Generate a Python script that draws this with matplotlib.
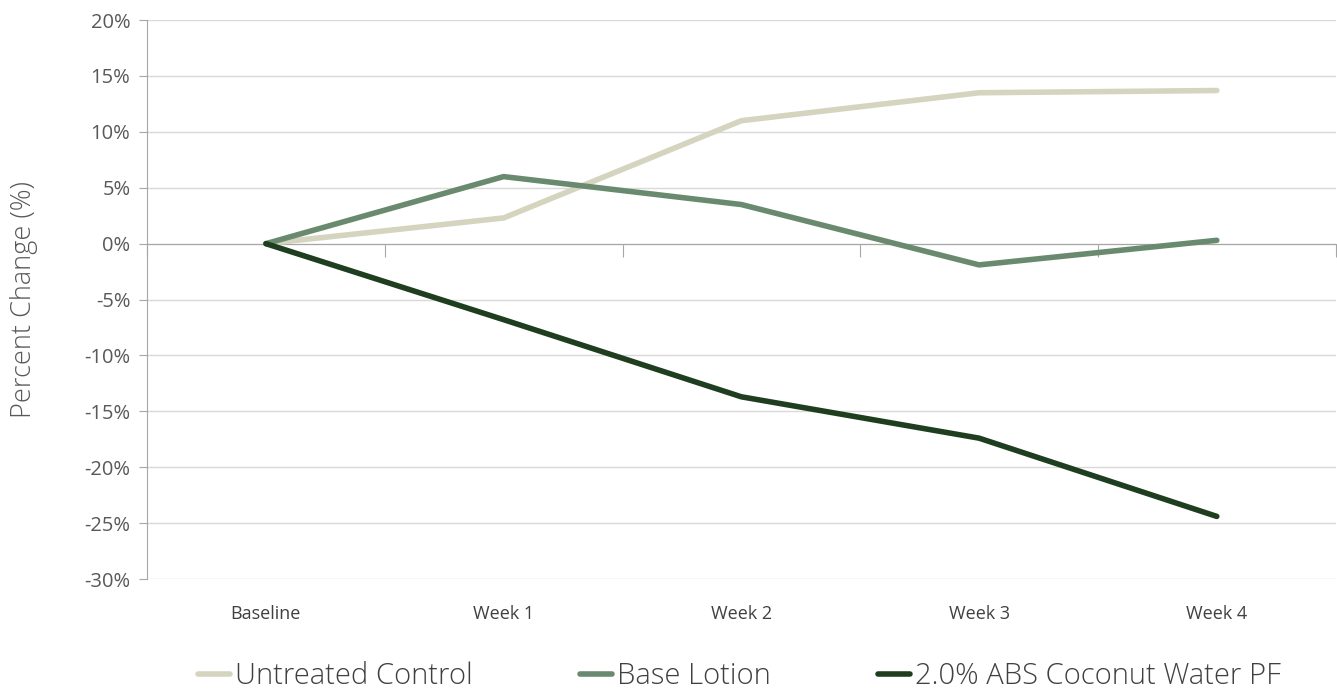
import numpy as np
import matplotlib.pyplot as plt
from matplotlib.ticker import FuncFormatter

categories = ['Baseline', 'Week 1', 'Week 2', 'Week 3', 'Week 4']
untreated = [0.0, 2.3, 11.0, 13.5, 13.7]
base_lotion = [0.0, 6.0, 3.5, -1.9, 0.3]
coconut = [0.0, -6.8, -13.7, -17.4, -24.4]
series_names = ['Untreated Control', 'Base Lotion', '2.0% ABS Coconut Water PF']
colors = ['#D5D4BF', '#6A8A6F', '#1E3E1F']

plt.rcParams['font.family'] = ['Open Sans', 'DejaVu Sans']

fig = plt.figure(figsize=(13.37, 6.93), dpi=100)
ax = fig.add_axes([0.110, 0.1645, 0.889, 0.8065])

x = np.arange(len(categories))
for vals, name, c in zip([untreated, base_lotion, coconut], series_names, colors):
    ax.plot(x, vals, color=c, lw=4, label=name, solid_capstyle='round', zorder=3)

ax.set_xlim(-0.5, len(categories) - 0.5)
ax.set_ylim(-30, 20)
ax.set_yticks(np.arange(-30, 21, 5))
ax.yaxis.set_major_formatter(FuncFormatter(lambda v, p: f'{v:.0f}%'))
ax.grid(axis='y', color='#D9D9D9', lw=1, zorder=0)
ax.set_axisbelow(True)

for s in ['top', 'right']:
    ax.spines[s].set_visible(False)
ax.spines['left'].set_color('#A6A6A6')
ax.spines['bottom'].set_position(('data', 0))
ax.spines['bottom'].set_color('#A6A6A6')
ax.spines['bottom'].set_zorder(2)

ax.set_xticks(np.arange(-0.5, len(categories), 1))
ax.set_xticklabels([])
ax.tick_params(axis='x', length=9, color='#A6A6A6', direction='out')
ax.tick_params(axis='y', length=6, color='#A6A6A6', labelsize=14.5, labelcolor='#595959', pad=6)

for i, lab in enumerate(categories):
    ax.text(i, -33.1, lab, ha='center', va='center', fontsize=13, color='#404040',
            clip_on=False)

ax.set_ylabel('Percent Change (%)', fontsize=19.5, color='#595959', fontweight='light')
ax.yaxis.set_label_coords(-0.092, 0.5)

leg = fig.legend(loc='lower center', bbox_to_anchor=(0.553, -0.035), ncol=3, frameon=False,
                 fontsize=21, handlelength=1.1, handletextpad=0.15, columnspacing=3.7)
for t in leg.get_texts():
    t.set_color('#404040')
    t.set_fontweight('light')

fig.savefig('out.png', dpi=100)
